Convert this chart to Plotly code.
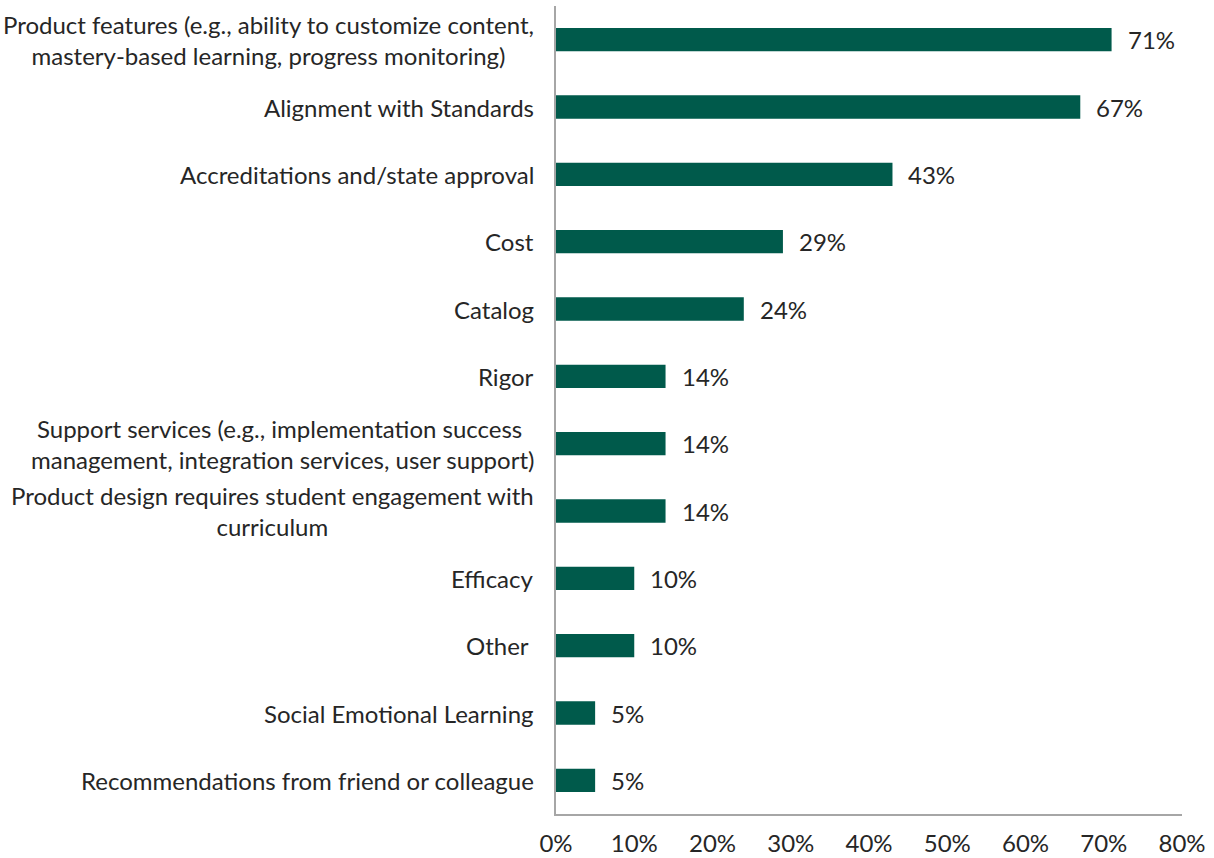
import plotly.graph_objects as go

# Survey factors, listed top to bottom
categories = [
    "Product features (e.g., ability to customize content,<br>mastery-based learning, progress monitoring)",
    "Alignment with Standards",
    "Accreditations and/state approval",
    "Cost",
    "Catalog",
    "Rigor",
    "Support services (e.g., implementation success <br>management, integration services, user support)",
    "Product design requires student engagement with<br>curriculum",
    "Efficacy",
    "Other ",
    "Social Emotional Learning",
    "Recommendations from friend or colleague",
]
values = [71, 67, 43, 29, 24, 14, 14, 14, 10, 10, 5, 5]
x_ticks = [0, 10, 20, 30, 40, 50, 60, 70, 80]

BAR = "#005a4b"
TEXT = "#262626"
AXIS = "#a6a6a6"
FONT = "Lato"
SIZE = 24

ids = list(range(len(categories)))

fig = go.Figure(
    go.Bar(
        x=values,
        y=ids,
        orientation="h",
        marker=dict(color=BAR, line=dict(width=0)),
        width=0.347,
        hoverinfo="skip",
    )
)

annotations = []
for i, (cat, v) in enumerate(zip(categories, values)):
    # category label, centred text block right-aligned to the axis
    annotations.append(dict(
        x=0, xref="paper", y=i, yref="y",
        text=cat, showarrow=False, xanchor="right", yanchor="middle",
        align="center", xshift=-20,
        font=dict(family=FONT, size=SIZE, color=TEXT),
    ))
    # value label just past the bar end
    annotations.append(dict(
        x=v, xref="x", y=i, yref="y",
        text=f"{v}%", showarrow=False, xanchor="left", yanchor="middle",
        xshift=14,
        font=dict(family=FONT, size=SIZE, color=TEXT),
    ))

fig.update_layout(
    width=1214, height=858,
    margin=dict(l=556, r=32, t=6, b=44),
    plot_bgcolor="white", paper_bgcolor="white",
    showlegend=False,
    annotations=annotations,
    xaxis=dict(
        range=[0, 80], tickvals=x_ticks, ticktext=[f"{t}%" for t in x_ticks],
        showgrid=False, zeroline=False, automargin=False,
        showline=True, linecolor=AXIS, linewidth=1.5,
        ticks="", ticklabelstandoff=7,
        tickfont=dict(family=FONT, size=SIZE, color=TEXT),
    ),
    yaxis=dict(
        range=[len(categories) - 0.5, -0.5], automargin=False,
        showticklabels=False, showgrid=False, zeroline=False,
        showline=True, linecolor=AXIS, linewidth=1.5, ticks="",
    ),
)

fig.write_html("out.html")
